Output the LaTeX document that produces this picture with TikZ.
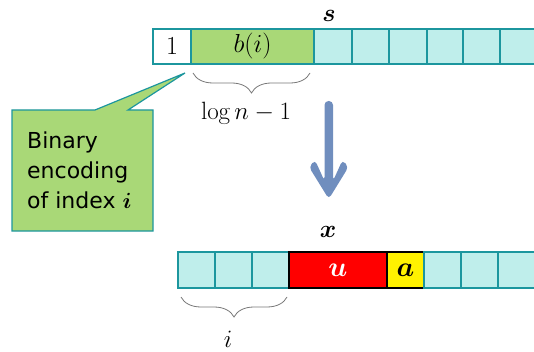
\documentclass[tikz,border=0pt]{standalone}
\usepackage{fix-cm}
\usepackage{amsmath}
\usepackage{fontspec}
\newfontfamily\callfont{DejaVu Sans}
\usetikzlibrary{decorations.pathreplacing}
\definecolor{cellcyan}{RGB}{191,238,235}
\definecolor{cellteal}{RGB}{28,150,158}
\definecolor{cellgreen}{RGB}{169,216,119}
\definecolor{arrowblue}{RGB}{112,142,190}
\definecolor{bracegray}{RGB}{120,120,120}
\tikzset{
  cell/.style={draw=cellteal, line width=1.6pt, fill=cellcyan, minimum height=35pt, inner sep=0pt, font=\fontsize{26}{30}\selectfont},
  redcell/.style={draw=black, line width=1.3pt, fill=red, minimum height=36pt, inner sep=0pt, font=\fontsize{28}{32}\selectfont},
  yelcell/.style={draw=black, line width=1.3pt, fill=yellow, minimum height=36pt, inner sep=0pt, font=\fontsize{28}{32}\selectfont},
  lbl/.style={inner sep=0pt, font=\fontsize{25}{30}\selectfont},
  bracedeco/.style={draw=bracegray, line width=0.8pt, decorate, decoration={brace, amplitude=20pt, mirror}},
}
\begin{document}
\begin{tikzpicture}[x=1pt, y=-1pt]
\useasboundingbox (0,0) rectangle (534,352);
\clip (0,0) rectangle (534,352);
% top row s
\node[cell, fill=white, minimum width=38pt] (s1) at (172,46.5) {$1$};
\node[cell, fill=cellgreen, minimum width=123pt] (sb) at (252.5,46.5) {$b(i)$};
\node[cell, minimum width=38pt] (s3) at (333,46.5) {};
\node[cell, minimum width=37pt] (s4) at (370.5,46.5) {};
\node[cell, minimum width=38pt] (s5) at (408,46.5) {};
\node[cell, minimum width=36pt] (s6) at (445,46.5) {};
\node[cell, minimum width=37pt] (s7) at (481.5,46.5) {};
\node[cell, minimum width=40pt] (s8) at (520,46.5) {};
\node[lbl] (slabel) at (329,16) {$\boldsymbol{s}$};
% brace under b(i)
\coordinate (bA) at (193,73);
\coordinate (bB) at (310,73);
\draw[bracedeco] (bA) -- (bB);
\node[lbl] (loglabel) at (246,113) {$\log n-1$};
% callout
\coordinate (tip) at (185,73);
\draw[draw=cellteal, line width=1.2pt, fill=cellgreen]
  (12,110) -- (95,110) -- (tip) -- (128,110) -- (153,110) -- (153,231) -- (12,231) -- cycle;
\node[anchor=north west, inner sep=0pt, align=left, font=\callfont\fontsize{22}{30}\selectfont] (calltext) at (27,132)
  {Binary\\encoding\\of index $\boldsymbol{i}$};
% down arrow
\fill[arrowblue, rounded corners=4pt]
  (324.5,101) -- (324.5,181) -- (315,160) -- (309,167) -- (328.8,199) -- (348.5,167) -- (342.5,160) -- (333,181) -- (333,101) -- cycle;
% bottom row x
\node[cell, minimum width=37pt, minimum height=36pt] (x1) at (196.5,270) {};
\node[cell, minimum width=37pt, minimum height=36pt] (x2) at (233.5,270) {};
\node[cell, minimum width=37pt, minimum height=36pt] (x3) at (270.5,270) {};
\node[redcell, minimum width=98pt] (xu) at (338,270) {\color{white}$\boldsymbol{u}$};
\node[yelcell, minimum width=37pt] (xa) at (405.5,270) {$\boldsymbol{a}$};
\node[cell, minimum width=37pt, minimum height=36pt] (x6) at (442.5,270) {};
\node[cell, minimum width=37pt, minimum height=36pt] (x7) at (479.5,270) {};
\node[cell, minimum width=40pt, minimum height=36pt] (x8) at (518,270) {};
\node[lbl] (xlabel) at (328,232) {$\boldsymbol{x}$};
% brace under first three cells
\coordinate (cA) at (181,297);
\coordinate (cB) at (287,297);
\draw[bracedeco] (cA) -- (cB);
\node[lbl] (ilabel) at (228,339) {$i$};
\end{tikzpicture}
\end{document}
